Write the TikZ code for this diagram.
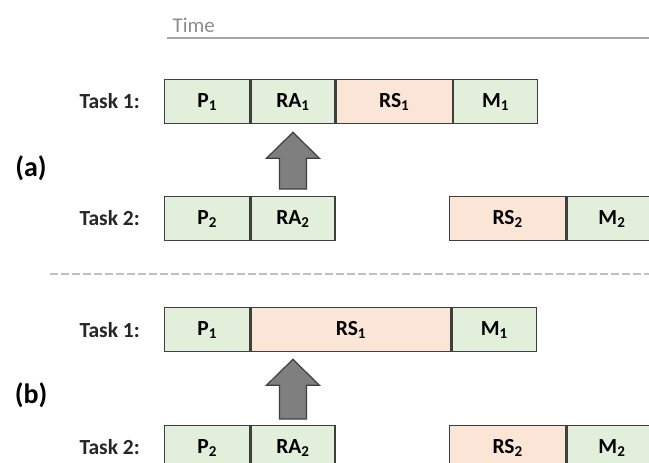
\documentclass[tikz,border=0pt]{standalone}
\usepackage{fontspec}
\setmainfont{Carlito}
\usetikzlibrary{calc}
\definecolor{greenfill}{HTML}{E2EFDA}
\definecolor{salmonfill}{HTML}{FBE5D6}
\definecolor{edgegray}{HTML}{3F3F3F}
\definecolor{arrowgray}{HTML}{7F7F7F}
\definecolor{labelgray}{HTML}{262626}
\definecolor{timegray}{HTML}{8C8C8C}
\definecolor{timeline}{HTML}{A6A6A6}
\definecolor{sepgray}{HTML}{C0C0C0}

\begin{document}
\begin{tikzpicture}[x=1pt,y=-1pt,
  phase/.style={draw=edgegray, line width=1.3pt, minimum height=44pt, inner sep=0pt,
    anchor=north west, font=\fontsize{21.5}{24}\selectfont\bfseries, text=black},
  okphase/.style={phase, fill=greenfill},
  rsphase/.style={phase, fill=salmonfill},
  tasklabel/.style={anchor=west, font=\fontsize{21.5}{24}\selectfont\bfseries, text=labelgray},
  partlabel/.style={font=\fontsize{28}{30}\selectfont\bfseries, text=black},
  blockarrow/.style={draw=edgegray, fill=arrowgray, line width=1.2pt, line join=miter}]

\clip (0,0) rectangle (649,463);

% time axis
\node[anchor=base west, font=\fontsize{21}{24}\selectfont, text=timegray] (time) at (169,32) {Time};
\coordinate (t0) at (167,38);
\coordinate (t1) at (649,38);
\draw[timeline, line width=1.5pt] (t0) -- (t1);

% (a) task 1
\node[okphase, minimum width=85pt] (p1a) at (164,79) {P\textsubscript{1}};
\node[okphase, minimum width=84pt] (ra1a) at (p1a.north east) {RA\textsubscript{1}};
\node[rsphase, minimum width=116pt] (rs1a) at (ra1a.north east) {RS\textsubscript{1}};
\node[okphase, minimum width=84pt] (m1a) at (rs1a.north east) {M\textsubscript{1}};

% (a) task 2
\node[okphase, minimum width=85pt] (p2a) at (164,196) {P\textsubscript{2}};
\node[okphase, minimum width=84pt] (ra2a) at (p2a.north east) {RA\textsubscript{2}};
\node[rsphase, minimum width=116pt] (rs2a) at (449,196) {RS\textsubscript{2}};
\node[okphase, minimum width=90pt] (m2a) at (rs2a.north east) {M\textsubscript{2}};

% (b) task 1
\node[okphase, minimum width=85pt] (p1b) at (164,307) {P\textsubscript{1}};
\node[rsphase, minimum width=200pt] (rs1b) at (p1b.north east) {RS\textsubscript{1}};
\node[okphase, minimum width=84pt] (m1b) at (rs1b.north east) {M\textsubscript{1}};

% (b) task 2
\node[okphase, minimum width=85pt] (p2b) at (164,425) {P\textsubscript{2}};
\node[okphase, minimum width=84pt] (ra2b) at (p2b.north east) {RA\textsubscript{2}};
\node[rsphase, minimum width=116pt] (rs2b) at (449,425) {RS\textsubscript{2}};
\node[okphase, minimum width=90pt] (m2b) at (rs2b.north east) {M\textsubscript{2}};

% row labels
\node[tasklabel] (l1a) at (76,101) {Task 1:};
\node[tasklabel] (l2a) at (76,218) {Task 2:};
\node[tasklabel] (l1b) at (76,330) {Task 1:};
\node[tasklabel] (l2b) at (76,447) {Task 2:};
\node[partlabel] (pa) at (31,168) {(a)};
\node[partlabel] (pb) at (31,395) {(b)};

% separator
\coordinate (s0) at (50,274);
\coordinate (s1) at (649,274);
\draw[sepgray, line width=2pt, dash pattern=on 8pt off 3pt] (s0) -- (s1);

% block arrows from task 2 up to task 1
\coordinate (tipa) at ($(ra2a.north |- ra1a.south)+(0,8)$);
\coordinate (basea) at ($(ra2a.north)+(0,-7)$);
\draw[blockarrow] ($(basea)+(-13.5,0)$) -- ($(tipa)+(-13.5,26)$) -- ($(tipa)+(-26.5,26)$)
  -- (tipa) -- ($(tipa)+(26.5,26)$) -- ($(tipa)+(13.5,26)$) -- ($(basea)+(13.5,0)$) -- cycle;

\coordinate (tipb) at ($(ra2b.north |- rs1b.south)+(0,7)$);
\coordinate (baseb) at ($(ra2b.north)+(0,-6)$);
\draw[blockarrow] ($(baseb)+(-13.5,0)$) -- ($(tipb)+(-13.5,26)$) -- ($(tipb)+(-26.5,26)$)
  -- (tipb) -- ($(tipb)+(26.5,26)$) -- ($(tipb)+(13.5,26)$) -- ($(baseb)+(13.5,0)$) -- cycle;
\end{tikzpicture}
\end{document}
